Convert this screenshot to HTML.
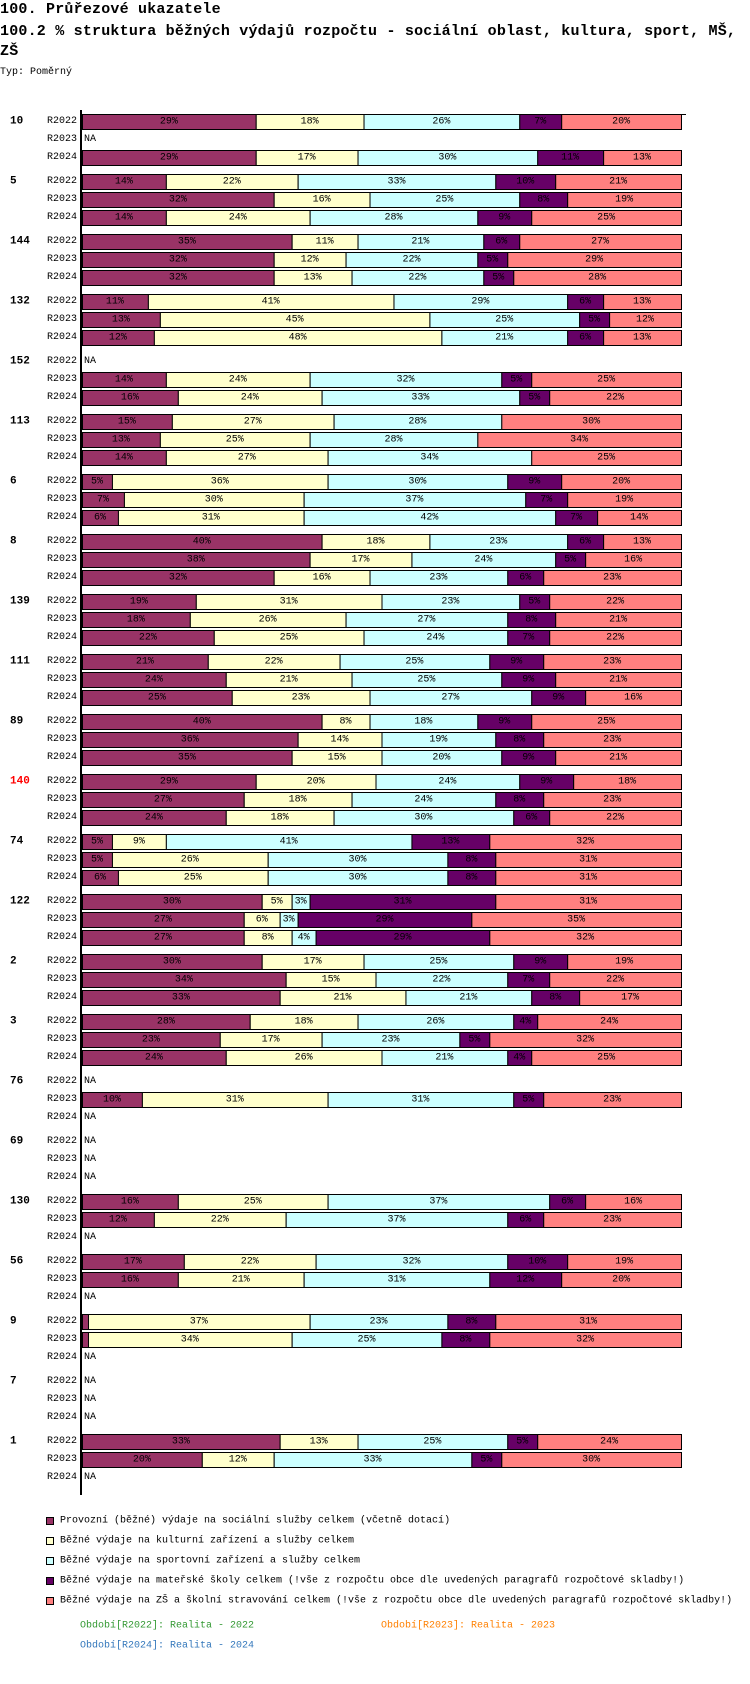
<!DOCTYPE html>
<html><head><meta charset="utf-8">
<style>
body{margin:0;background:#fff;width:750px;height:1684px;overflow:hidden;font-family:"Liberation Mono",monospace;}
.t{position:absolute;left:0;white-space:nowrap;color:#000}
</style></head><body>
<div class="t" style="top:0px;font-size:15px;font-weight:bold;line-height:20px;letter-spacing:0.2px">100. Průřezové ukazatele</div>
<div class="t" style="top:22px;font-size:15px;font-weight:bold;line-height:20px;width:748px;white-space:normal;letter-spacing:0.2px">100.2 % struktura běžných výdajů rozpočtu - sociální oblast, kultura, sport, MŠ, ZŠ</div>
<div class="t" style="top:67px;font-size:10px;">Typ: Poměrný</div>
<svg id="chart" width="750" height="1684" style="position:absolute;left:0;top:0" xmlns="http://www.w3.org/2000/svg"></svg>
<script>
const groups=["10","5","144","132","152","113","6","8","139","111","89","140","74","122","2","3","76","69","130","56","9","7","1"];
const periods=["R2022","R2023","R2024"];
const seriesNames=["Provozní (běžné) výdaje na sociální služby celkem (včetně dotací)","Běžné výdaje na kulturní zařízení a služby celkem","Běžné výdaje na sportovní zařízení a služby celkem","Běžné výdaje na mateřské školy celkem (!vše z rozpočtu obce dle uvedených paragrafů rozpočtové skladby!)","Běžné výdaje na ZŠ a školní stravování celkem (!vše z rozpočtu obce dle uvedených paragrafů rozpočtové skladby!)"];
const values=[
[[29,18,26,7,20],null,[29,17,30,11,13]],
[[14,22,33,10,21],[32,16,25,8,19],[14,24,28,9,25]],
[[35,11,21,6,27],[32,12,22,5,29],[32,13,22,5,28]],
[[11,41,29,6,13],[13,45,25,5,12],[12,48,21,6,13]],
[null,[14,24,32,5,25],[16,24,33,5,22]],
[[15,27,28,0,30],[13,25,28,0,34],[14,27,34,0,25]],
[[5,36,30,9,20],[7,30,37,7,19],[6,31,42,7,14]],
[[40,18,23,6,13],[38,17,24,5,16],[32,16,23,6,23]],
[[19,31,23,5,22],[18,26,27,8,21],[22,25,24,7,22]],
[[21,22,25,9,23],[24,21,25,9,21],[25,23,27,9,16]],
[[40,8,18,9,25],[36,14,19,8,23],[35,15,20,9,21]],
[[29,20,24,9,18],[27,18,24,8,23],[24,18,30,6,22]],
[[5,9,41,13,32],[5,26,30,8,31],[6,25,30,8,31]],
[[30,5,3,31,31],[27,6,3,29,35],[27,8,4,29,32]],
[[30,17,25,9,19],[34,15,22,7,22],[33,21,21,8,17]],
[[28,18,26,4,24],[23,17,23,5,32],[24,26,21,4,25]],
[null,[10,31,31,5,23],null],
[null,null,null],
[[16,25,37,6,16],[12,22,37,6,23],null],
[[17,22,32,10,19],[16,21,31,12,20],null],
[[1,37,23,8,31],[1,34,25,8,32],null],
[null,null,null],
[[33,13,25,5,24],[20,12,33,5,30],null]
];
const colors=["#993366","#ffffcc","#ccffff","#660066","#ff8080"];
const svg=document.getElementById('chart');
const NS="http://www.w3.org/2000/svg";
const X0=82,W=599,Y0=114,GP=60,RP=18,BH=15;
function xs(p){return X0+p/100*W;}
function mk(tag,attrs,parent){const e=document.createElementNS(NS,tag);for(const k in attrs)e.setAttribute(k,attrs[k]);(parent||svg).appendChild(e);return e;}
function txt(x,y,s,opts){const e=mk('text',Object.assign({x:x,y:y,'font-family':'Liberation Mono, monospace','font-size':10,'dominant-baseline':'central'},opts||{}));e.textContent=s;return e;}
groups.forEach((g,gi)=>{
  const gy=Y0+gi*GP;
  const gl=txt(10,gy+7.5,g,{'font-weight':'bold','font-size':11,fill:g==="140"?"#ff0000":"#000"});
  
  
  periods.forEach((p,pi)=>{
    const y=gy+pi*RP;
    const pl=txt(77,y+7.5,p,{'text-anchor':'end'});
    
    
    const v=values[gi][pi];
    if(!v){const na=txt(84,y+7.5,"NA");return;}
    const tot=v.reduce((a,b)=>a+b,0);
    let acc=0;
    v.forEach((val,si)=>{
      if(val<=0)return;
      const x1=xs(acc/tot*100),x2=xs((acc+val)/tot*100);acc+=val;
      const r=mk('rect',{x:x1+0.5,y:y+0.5,width:x2-x1,height:BH,fill:colors[si],stroke:'#000','stroke-width':1});
      
      
      if(val>=2){const l=txt((x1+x2)/2,y+8,val+"%",{'text-anchor':'middle'});}
    });
  });
});
const ax=mk('line',{x1:81,y1:110,x2:81,y2:1495,stroke:'#000','stroke-width':2});


const tl=mk('line',{x1:81,y1:114.5,x2:686,y2:114.5,stroke:'#000','stroke-width':1});


seriesNames.forEach((n,i)=>{
  const y=1517+i*20;
  const r=mk('rect',{x:46.5,y:y+0.5,width:7,height:7,fill:colors[i],stroke:'#000','stroke-width':1});
  
  
  const t=txt(60,y+4,n,{'font-size':10});
  
  
});
const pinfo=[["Období[R2022]: Realita - 2022",80,1626,"#339933"],["Období[R2023]: Realita - 2023",381,1626,"#ff8000"],["Období[R2024]: Realita - 2024",80,1646,"#3377bb"]];
pinfo.forEach((q,i)=>{
  const t=txt(q[1],q[2],q[0],{fill:q[3],'font-size':10});
  
  
});
</script>
</body></html>
